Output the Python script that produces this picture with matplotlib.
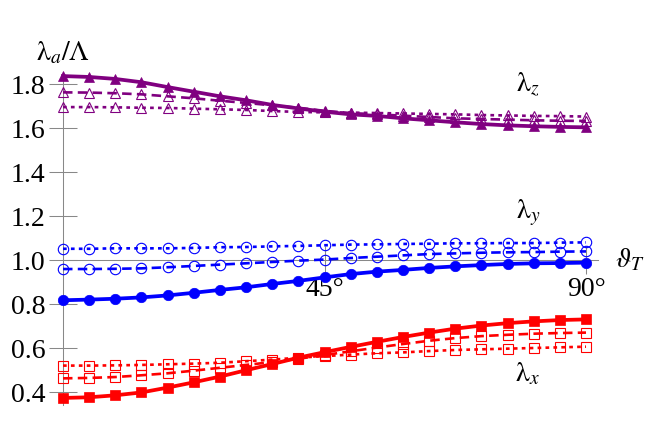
import matplotlib
matplotlib.use("Agg")
import matplotlib.pyplot as plt

theta = [0, 4.5, 9, 13.5, 18, 22.5, 27, 31.5, 36, 40.5, 45,
         49.5, 54, 58.5, 63, 67.5, 72, 76.5, 81, 85.5, 90]

lz_solid = [1.836, 1.832, 1.823, 1.808, 1.786, 1.765, 1.744, 1.726, 1.705, 1.689, 1.674,
            1.662, 1.655, 1.644, 1.635, 1.626, 1.618, 1.612, 1.608, 1.605, 1.603]
lz_dash = [1.762, 1.761, 1.758, 1.753, 1.744, 1.735, 1.724, 1.714, 1.703, 1.692, 1.678,
           1.668, 1.662, 1.656, 1.650, 1.644, 1.641, 1.638, 1.635, 1.633, 1.632]
lz_dot = [1.695, 1.695, 1.694, 1.692, 1.691, 1.688, 1.685, 1.682, 1.677, 1.673, 1.671,
          1.670, 1.668, 1.666, 1.664, 1.662, 1.659, 1.657, 1.655, 1.654, 1.652]

ly_solid = [0.817, 0.820, 0.824, 0.830, 0.839, 0.851, 0.864, 0.876, 0.891, 0.905, 0.921,
            0.936, 0.947, 0.955, 0.964, 0.971, 0.977, 0.982, 0.985, 0.986, 0.988]
ly_dash = [0.959, 0.959, 0.960, 0.962, 0.967, 0.973, 0.979, 0.985, 0.991, 0.997, 1.002,
           1.009, 1.015, 1.021, 1.027, 1.030, 1.033, 1.035, 1.036, 1.038, 1.039]
ly_dot = [1.051, 1.051, 1.053, 1.053, 1.053, 1.055, 1.058, 1.059, 1.062, 1.064, 1.067,
          1.070, 1.071, 1.073, 1.074, 1.076, 1.076, 1.077, 1.077, 1.079, 1.080]

lx_solid = [0.373, 0.376, 0.385, 0.398, 0.420, 0.444, 0.470, 0.499, 0.527, 0.556, 0.581,
            0.605, 0.628, 0.650, 0.670, 0.688, 0.702, 0.713, 0.721, 0.727, 0.730]
lx_dash = [0.462, 0.464, 0.468, 0.476, 0.485, 0.497, 0.510, 0.523, 0.536, 0.551, 0.568,
           0.585, 0.602, 0.618, 0.633, 0.645, 0.654, 0.660, 0.665, 0.668, 0.670]
lx_dot = [0.520, 0.520, 0.521, 0.523, 0.526, 0.529, 0.533, 0.540, 0.547, 0.556, 0.563,
          0.570, 0.576, 0.580, 0.586, 0.591, 0.594, 0.597, 0.600, 0.603, 0.606]

yticks = [0.4, 0.6, 0.8, 1.0, 1.2, 1.4, 1.6, 1.8]
ytick_labels = ["0.4", "0.6", "0.8", "1.0", "1.2", "1.4", "1.6", "1.8"]
xticks = [45, 90]
xtick_labels = ["45°", "90°"]

plt.rcParams["font.family"] = ["Liberation Serif", "DejaVu Serif"]
plt.rcParams["mathtext.fontset"] = "stix"

W, H = 664, 443
fig = plt.figure(figsize=(W / 100, H / 100), dpi=100)
ax = fig.add_axes([0, 0, 1, 1])
ax.patch.set_alpha(0)

x0p, x90p = 63, 586
sx = (x90p - x0p) / 90.0
ax.set_xlim(-x0p / sx, (W - x0p) / sx)
ax.set_ylim(1 - (H - 260) / 220.0, 1 + 260 / 220.0)

groups = [
    ("#800080", "^", lz_solid, lz_dash, lz_dot),
    ("#0000ff", "o", ly_solid, ly_dash, ly_dot),
    ("#ff0000", "s", lx_solid, lx_dash, lx_dot),
]
ms_f = {"^": 7.0, "o": 7.5, "s": 6.5}
ms_o = {"^": 6.5, "o": 7.5, "s": 6.5}
for col, mk, ys, yd, yo in groups:
    ax.plot(theta, yo, color=col, lw=1.9, dashes=(1.4, 1.6), marker=mk,
            ms=ms_o[mk], mfc="none", mec=col, mew=0.8, clip_on=False, zorder=3)
    ax.plot(theta, yd, color=col, lw=1.9, dashes=(3.6, 2.0), marker=mk,
            ms=ms_o[mk], mfc="none", mec=col, mew=0.8, clip_on=False, zorder=3)
    ax.plot(theta, ys, color=col, lw=2.7, marker=mk, ms=ms_f[mk],
            mfc=col, mec=col, mew=0.5, clip_on=False, zorder=4)

for s in ["top", "right"]:
    ax.spines[s].set_visible(False)
ax.spines["left"].set_position(("data", 0))
ax.spines["bottom"].set_position(("data", 1.0))
ax.spines["left"].set_bounds(0.34, 1.84)
ax.spines["bottom"].set_bounds(0, 92)
for s in ["left", "bottom"]:
    ax.spines[s].set_color("#888888")
    ax.spines[s].set_linewidth(0.75)
    ax.spines[s].set_zorder(1)

ax.set_yticks(yticks)
ax.set_yticklabels(ytick_labels)
ax.set_xticks(xticks)
ax.set_xticklabels(xtick_labels)
ax.tick_params(direction="inout", length=20.2, width=0.75, color="#888888",
               pad=2.5, labelsize=20)

fs = 20
ax.text(0, 1.94, r"$\mathrm{\lambda}_a/\Lambda$", fontsize=fs, ha="center", va="center")
ax.text(97.5, 1.0, r"$\vartheta_T$", fontsize=fs, ha="center", va="center")
ax.text(80, 1.80, r"$\mathrm{\lambda}_z$", fontsize=fs, ha="center", va="center")
ax.text(80, 1.215, r"$\mathrm{\lambda}_y$", fontsize=fs, ha="center", va="center")
ax.text(80, 0.48, r"$\mathrm{\lambda}_x$", fontsize=fs, ha="center", va="center")

fig.savefig("out.png", dpi=100)
